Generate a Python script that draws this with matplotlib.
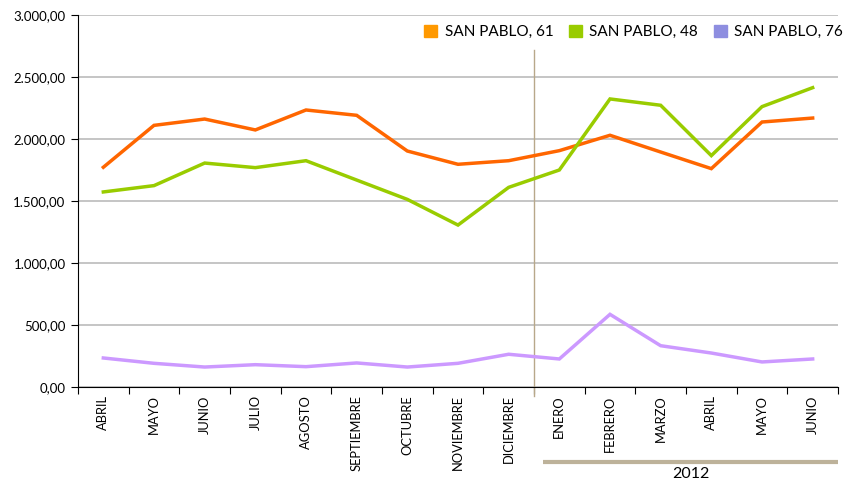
import matplotlib
matplotlib.use('Agg')
import matplotlib.pyplot as plt
from matplotlib.patches import Patch
from matplotlib.ticker import FuncFormatter

plt.rcParams['font.family'] = ['Lato', 'DejaVu Sans']

months = ['ABRIL', 'MAYO', 'JUNIO', 'JULIO', 'AGOSTO', 'SEPTIEMBRE', 'OCTUBRE',
          'NOVIEMBRE', 'DICIEMBRE', 'ENERO', 'FEBRERO', 'MARZO', 'ABRIL', 'MAYO', 'JUNIO']
sp61 = [1772, 2110, 2161, 2073, 2234, 2191, 1903, 1796, 1825,
        1906, 2030, 1895, 1761, 2137, 2169]
sp48 = [1573, 1624, 1806, 1769, 1825, 1669, 1513, 1306, 1610,
        1750, 2323, 2272, 1866, 2261, 2414]
sp76 = [234, 191, 161, 180, 164, 194, 161, 191, 264,
        226, 586, 333, 274, 202, 226]
series_names = ['SAN PABLO, 61', 'SAN PABLO, 48', 'SAN PABLO, 76']
year_label = '2012'


def fmt(v, pos):
    s = '{:,.2f}'.format(v)
    return s.replace(',', 'X').replace('.', ',').replace('X', '.')


fig = plt.figure(figsize=(8.51, 4.82), dpi=100)
ax = fig.add_axes([78 / 851, 1 - 387 / 482, 760 / 851, 372 / 482])

x = range(len(months))
ax.plot(x, sp61, color='#FF6600', lw=2.5, solid_joinstyle='miter', zorder=3)
ax.plot(x, sp48, color='#99CC00', lw=2.5, solid_joinstyle='miter', zorder=3)
ax.plot(x, sp76, color='#CC99FF', lw=2.5, solid_joinstyle='miter', zorder=3)

ax.set_xlim(-0.5, len(months) - 0.5)
ax.set_ylim(0, 3000)
ax.set_yticks(range(0, 3001, 500))
ax.yaxis.set_major_formatter(FuncFormatter(fmt))
ax.grid(axis='y', color='#C0C0C0', lw=1.3)
ax.set_axisbelow(True)

ax.set_xticks([i + 0.5 for i in range(-1, len(months))])
ax.set_xticklabels([])
ax.set_xticks(list(x), minor=True)
ax.set_xticklabels(months, minor=True, rotation=90, va='top', fontsize=9.3)
ax.tick_params(axis='x', which='major', length=5, color='black', direction='out')
ax.tick_params(axis='x', which='minor', length=0, pad=6)
ax.tick_params(axis='y', length=5, color='black', labelsize=9.5, pad=4)

for s in ['top', 'right']:
    ax.spines[s].set_visible(False)
ax.spines['left'].set_color('black')
ax.spines['bottom'].set_color('black')

# separator between years
trans = ax.get_xaxis_transform()
ax.plot([8.5, 8.5], [-0.024, 0.906], transform=trans, color='#B8A88A',
        lw=1, clip_on=False, zorder=2)
ax.plot([8.68, 14.5], [-0.202, -0.202], transform=trans, color='#BDB29A',
        lw=3, clip_on=False, solid_capstyle='butt')
ax.text(11.6, -0.235, year_label, transform=trans, ha='center', va='center',
        fontsize=11.5)

handles = [Patch(color='#FF9900'), Patch(color='#99CC00'), Patch(color='#8E8EE0')]
fig.legend(handles, series_names, loc='center right',
           bbox_to_anchor=(849 / 851, 1 - 32 / 482), borderaxespad=0,
           ncol=3, frameon=False, fontsize=11, handlelength=0.85, handleheight=0.85,
           handletextpad=0.5, columnspacing=1.0)

fig.savefig('out.png', dpi=100)
